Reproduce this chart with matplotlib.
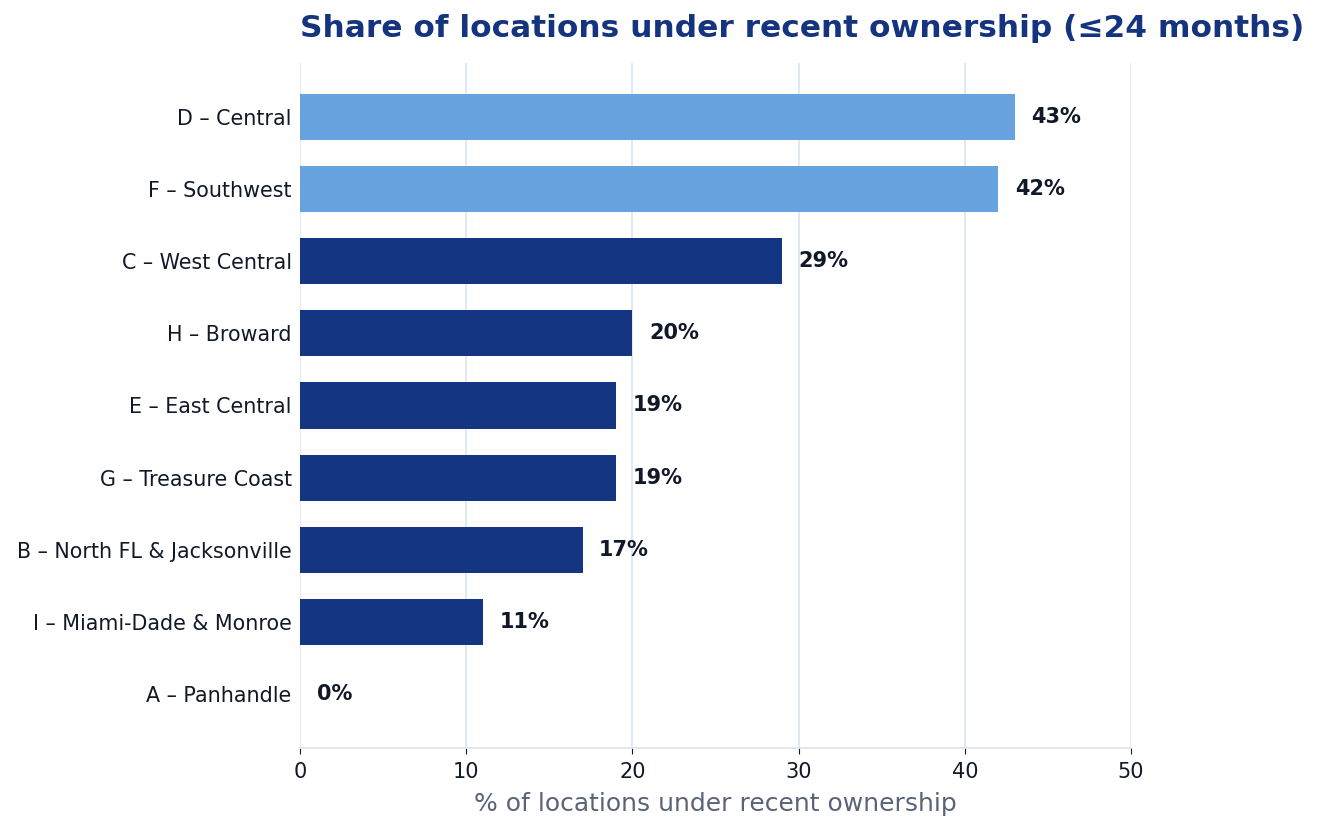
import matplotlib
matplotlib.use('Agg')
import matplotlib.pyplot as plt

regions = ['D – Central', 'F – Southwest', 'C – West Central', 'H – Broward',
           'E – East Central', 'G – Treasure Coast', 'B – North FL & Jacksonville',
           'I – Miami-Dade & Monroe', 'A – Panhandle']
shares = [43, 42, 29, 20, 19, 19, 17, 11, 0]
highlight = [True, True, False, False, False, False, False, False, False]

light = '#66a3df'
dark = '#143582'
colors = [light if h else dark for h in highlight]

fig = plt.figure(figsize=(13.19, 8.3), dpi=100)
ax = fig.add_axes([300 / 1319, 1 - 748 / 830, (1131 - 300) / 1319, (748 - 63) / 830])

y = list(range(len(regions)))
ax.barh(y, shares, height=0.64, color=colors, zorder=3)
for yi, v in zip(y, shares):
    ax.text(v + 1, yi, f'{v}%', va='center', ha='left', fontsize=15,
            fontweight='bold', color='#111827', zorder=4)

ax.set_yticks(y)
ax.set_yticklabels(regions, fontsize=14.9, color='#111827')
ax.set_ylim(len(regions) - 0.25, -0.75)
ax.set_xlim(0, 50)
ax.set_xticks([0, 10, 20, 30, 40, 50])
ax.tick_params(axis='x', labelsize=15, labelcolor='#111827', color='#111827',
               length=4, pad=6)
ax.tick_params(axis='y', length=0, pad=6)
ax.grid(axis='x', color='#dbe4ef', linewidth=1.2, zorder=0)
for s in ['top', 'right', 'left']:
    ax.spines[s].set_visible(False)
ax.spines['bottom'].set_color('#dbe4ef')
ax.spines['bottom'].set_linewidth(1.2)

ax.set_xlabel('% of locations under recent ownership', fontsize=18, color='#5a6478',
              labelpad=7)
ax.set_title('Share of locations under recent ownership (≤24 months)', loc='left',
             fontsize=22.5, fontweight='bold', color='#15347f', pad=18.5)

fig.savefig('out.png', dpi=100)
